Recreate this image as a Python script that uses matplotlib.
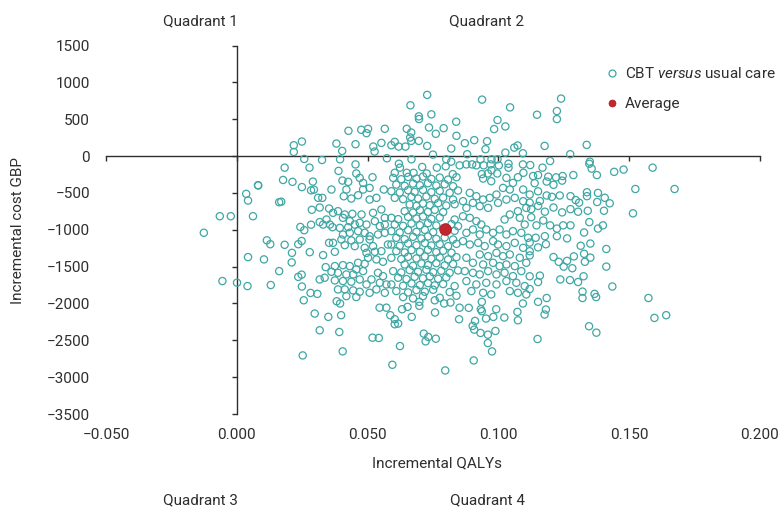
import numpy as np
import matplotlib.pyplot as plt
from matplotlib.lines import Line2D

plt.rcParams['font.family'] = ['Roboto', 'DejaVu Sans']
plt.rcParams['mathtext.fontset'] = 'custom'
plt.rcParams['mathtext.rm'] = 'Roboto'
plt.rcParams['mathtext.it'] = 'Roboto:italic'

# bootstrap replicates (incremental QALY, incremental cost GBP)
band_top = [
    (0.0728, 830), (0.0938, 766), (0.124, 780), (0.0664, 689), (0.1045, 661), (0.1224, 611),
    (0.1148, 561), (0.1224, 502), (0.0696, 539), (0.0697, 502), (0.0744, 566), (0.0997, 489),
    (0.0839, 466), (0.0427, 343), (0.0476, 357), (0.0502, 370), (0.0496, 311), (0.0566, 370),
    (0.065, 370), (0.0667, 320), (0.0735, 388), (0.0791, 379), (0.0761, 302), (0.0984, 366),
    (0.1027, 402), (0.0663, 252), (0.0667, 206), (0.0696, 206), (0.084, 275), (0.0908, 216),
    (0.0957, 202), (0.0872, 175), (0.0218, 147), (0.0249, 197), (0.0218, 56), (0.0381, 170),
    (0.0454, 161), (0.0403, 70), (0.0522, 129), (0.0527, 61), (0.0553, 179), (0.0591, 147),
    (0.0604, 193), (0.0619, 129), (0.0645, 129), (0.0728, 138), (0.082, 102), (0.0951, 93),
    (0.1061, 115), (0.1074, 143), (0.1177, 138), (0.1338, 152), (0.1094, 38), (0.1027, 47),
    (0.075, 20), (0.1275, 25), (0.0881, 25),
    (0.0258, -39), (0.0326, -53), (0.0395, -44), (0.0574, -30), (0.0668, -44), (0.0801, -44),
    (0.0974, -44), (0.0997, -44), (0.1198, -67), (0.135, -76), (0.082, -76), (0.0932, -44),
    (0.0183, -157), (0.0278, -157), (0.0454, -113), (0.062, -104), (0.0624, -157), (0.0709, -148),
    (0.0765, -157), (0.0799, -139), (0.0852, -126), (0.0878, -113), (0.09, -113), (0.0916, -126),
    (0.0944, -126), (0.0971, -113), (0.1002, -126), (0.1039, -104), (0.1039, -157), (0.1094, -113),
    (0.1122, -122), (0.1169, -157), (0.1348, -104), (0.1357, -170), (0.159, -157), (0.1479, -183),
    (0.1443, -214), (0.1377, -258),
    (0.0389, -201), (0.0457, -236), (0.0604, -227), (0.065, -227), (0.0676, -227), (0.0726, -236),
    (0.0826, -245), (0.0937, -245), (0.096, -236), (0.0974, -192), (0.0996, -236), (0.1096, -227),
    (0.1133, -271), (0.1152, -258), (0.1191, -280), (0.1221, -289), (0.1246, -271), (0.1287, -258),
    (0.1244, -333), (0.1185, -346),
]

# left and right flanks of the cloud
band_sides = [
    (0.0177, -324), (0.0213, -350), (0.0082, -399), (0.0249, -421), (0.0291, -346), (0.0284, -465),
    (0.0295, -456), (0.1139, -368), (0.1211, -390), (0.1152, -478), (0.1524, -447), (0.1674, -447),
    (0.0036, -512), (0.0043, -603), (0.0081, -395), (0.0162, -626), (0.017, -619), (0.0311, -566),
    (0.112, -522), (0.1159, -610), (0.1185, -535), (0.1205, -553), (0.1235, -535), (0.1276, -544),
    (0.1296, -597), (0.1309, -632), (0.1339, -491), (0.1339, -544), (0.1381, -500), (0.1407, -566),
    (0.1426, -641),
    (-0.0065, -816), (-0.0023, -816), (0.0062, -816), (0.0287, -729), (0.0317, -698), (0.112, -632),
    (0.1126, -720), (0.1152, -676), (0.1178, -755), (0.1211, -698), (0.1244, -764), (0.1276, -720),
    (0.1305, -755), (0.1342, -742), (0.1378, -623), (0.1404, -742), (0.1515, -777),
    (0.0243, -962), (0.0258, -1006), (0.0284, -931), (0.0317, -896), (0.1126, -830), (0.1146, -940),
    (0.1172, -874), (0.1198, -940), (0.1224, -984), (0.1248, -940), (0.1276, -940), (0.1328, -1037),
    (0.1348, -896), (0.1381, -984), (0.14, -940), (-0.0126, -1041),
    (0.0115, -1143), (0.0128, -1196), (0.0183, -1204), (0.0235, -1196), (0.0248, -1152), (0.112, -1174),
    (0.1143, -1108), (0.1178, -1087), (0.1182, -1196), (0.1224, -1087), (0.1263, -1117), (0.1315, -1217),
    (0.1352, -1187), (0.1413, -1261),
    (0.0043, -1371), (0.0104, -1402), (0.0211, -1313), (0.021, -1443), (0.0279, -1304), (0.112, -1291),
    (0.112, -1348), (0.1152, -1239), (0.1211, -1370), (0.1231, -1435), (0.1263, -1422), (0.1289, -1361),
    (0.1328, -1326), (0.1331, -1435), (0.1352, -1378), (0.1413, -1500),
    (-0.0055, -1696), (0.0001, -1718), (0.0041, -1764), (0.013, -1750), (0.0162, -1561), (0.0235, -1639),
    (0.0248, -1609), (0.0317, -1674), (0.112, -1631), (0.1152, -1709), (0.1159, -1622), (0.1237, -1674),
    (0.125, -1500), (0.1274, -1683), (0.1283, -1522), (0.1305, -1709), (0.1326, -1631), (0.1436, -1770),
    (0.0249, -1770), (0.0256, -1957), (0.0282, -1857), (0.0308, -1870), (0.0382, -1970), (0.0395, -2000),
    (0.0546, -2057), (0.0572, -2057), (0.0698, -1978), (0.0757, -1957), (0.0793, -2000), (0.0817, -1987),
    (0.0852, -2057), (0.0937, -1978), (0.1094, -2000), (0.112, -1804), (0.1152, -1978), (0.1185, -1926),
    (0.1322, -1839), (0.1322, -1926), (0.1368, -1870), (0.1374, -1913), (0.1574, -1926),
]

# dense core, left third
core_a = [
    (0.0404, -332), (0.0426, -350), (0.0419, -454), (0.0409, -545), (0.0438, -576), (0.047, -296),
    (0.0483, -364), (0.0519, -287), (0.0508, -432), (0.0483, -454), (0.0464, -531), (0.0508, -590),
    (0.0534, -567), (0.0562, -454), (0.0362, -454), (0.0327, -567), (0.0353, -712), (0.0368, -770),
    (0.0387, -748), (0.0413, -793), (0.0442, -784), (0.0477, -793), (0.0521, -770), (0.0553, -725),
    (0.0566, -838), (0.0343, -861), (0.0356, -929), (0.033, -929), (0.0366, -965), (0.0406, -838),
    (0.0432, -883), (0.0451, -929), (0.047, -906), (0.0496, -929), (0.0528, -883), (0.0547, -951),
    (0.0566, -929), (0.0394, -974), (0.0426, -965), (0.0406, -1064), (0.0432, -1041), (0.0464, -1019),
    (0.0489, -1041), (0.0508, -1087), (0.054, -1064), (0.0566, -1041), (0.04, -1132), (0.0438, -1145),
    (0.047, -1132), (0.0508, -1132), (0.0368, -1177), (0.0353, -1177), (0.0413, -1209), (0.0451, -1222),
    (0.0489, -1245), (0.0521, -1222), (0.0578, -1200), (0.0375, -1299), (0.0496, -1313), (0.0528, -1299),
    (0.0553, -1290), (0.033, -1344), (0.0502, -1380), (0.0534, -1403), (0.0559, -1434), (0.0464, -1448),
    (0.0489, -1462), (0.034, -1507), (0.0375, -1493), (0.0406, -1480), (0.0432, -1493), (0.0457, -1538),
    (0.0483, -1561), (0.0362, -1570), (0.0387, -1584), (0.0419, -1606), (0.0445, -1606), (0.054, -1584),
    (0.0559, -1629), (0.0336, -1651), (0.0515, -1674), (0.047, -1674), (0.0375, -1687), (0.0406, -1696),
    (0.0438, -1705), (0.0496, -1742), (0.0547, -1719), (0.0572, -1742), (0.0387, -1809), (0.0413, -1809),
    (0.0445, -1823), (0.047, -1841), (0.0508, -1855), (0.0534, -1809), (0.0566, -1855), (0.0419, -1900),
    (0.0457, -1913),
]

# dense core, middle third (around the average)
core_b = [
    (0.0598, -296), (0.0629, -314), (0.0655, -283), (0.0687, -305), (0.0712, -278), (0.0744, -310),
    (0.0776, -292), (0.0808, -319), (0.084, -287),
    (0.061, -387), (0.0642, -405), (0.0674, -373), (0.07, -396), (0.0731, -368), (0.0763, -400),
    (0.0795, -382), (0.0827, -409),
    (0.0591, -477), (0.0623, -495), (0.0655, -463), (0.068, -486), (0.0712, -459), (0.0744, -490),
    (0.0776, -472), (0.0814, -499), (0.0846, -468),
    (0.0604, -567), (0.0636, -585), (0.0668, -554), (0.0693, -576), (0.0725, -549), (0.0757, -581),
    (0.0789, -563), (0.0827, -590),
    (0.0661, -658), (0.0687, -676), (0.0712, -644), (0.0738, -667), (0.077, -639), (0.0801, -671),
    (0.0833, -653),
    (0.0642, -748), (0.0674, -766), (0.07, -734), (0.0731, -757), (0.0757, -730), (0.0789, -761),
    (0.0591, -838), (0.0617, -856), (0.0655, -825), (0.0687, -847), (0.0712, -820), (0.0744, -852),
    (0.0776, -834), (0.0833, -861),
    (0.0604, -929), (0.0636, -947), (0.0668, -915), (0.07, -938), (0.0731, -910), (0.0763, -942),
    (0.0821, -924), (0.0846, -951),
    (0.0591, -1019), (0.0623, -1037), (0.0655, -1005), (0.0687, -1028), (0.0719, -1001), (0.0751, -1032),
    (0.0833, -1014),
    (0.061, -1109), (0.0642, -1127), (0.0674, -1096), (0.0706, -1118), (0.0731, -1091), (0.0763, -1123),
    (0.0795, -1105), (0.0827, -1132),
    (0.0591, -1200), (0.0623, -1218), (0.0655, -1186), (0.0687, -1209), (0.0719, -1181), (0.0744, -1213),
    (0.0776, -1195), (0.0808, -1222), (0.084, -1191),
    (0.061, -1290), (0.0642, -1308), (0.0668, -1276), (0.07, -1299), (0.0731, -1272), (0.0763, -1304),
    (0.0789, -1285), (0.0821, -1312),
    (0.0591, -1380), (0.0629, -1398), (0.0655, -1367), (0.0687, -1389), (0.0719, -1362), (0.0744, -1394),
    (0.0776, -1376), (0.0808, -1403), (0.084, -1371),
    (0.0642, -1471), (0.0674, -1489), (0.0706, -1457), (0.0731, -1480), (0.0763, -1453), (0.0795, -1484),
    (0.0827, -1466),
    (0.0598, -1561), (0.0629, -1579), (0.0661, -1547), (0.0693, -1570), (0.0725, -1543), (0.0751, -1575),
    (0.0782, -1556), (0.0814, -1584), (0.0846, -1552),
    (0.0617, -1651), (0.0649, -1669), (0.068, -1638), (0.0712, -1660), (0.0738, -1633), (0.077, -1665),
    (0.0801, -1647),
    (0.0591, -1742), (0.0636, -1760), (0.0668, -1728), (0.07, -1751), (0.0731, -1724), (0.0757, -1755),
    (0.0789, -1737), (0.0833, -1764),
    (0.061, -1832), (0.0655, -1850), (0.0687, -1818), (0.0719, -1841), (0.0751, -1814), (0.0814, -1845),
    (0.0636, -1913), (0.0674, -1931), (0.0712, -1900), (0.0776, -1922), (0.084, -1895),
]

# dense core, right third
core_c = [
    (0.0942, -305), (0.0973, -341), (0.1031, -296), (0.1056, -364), (0.1075, -287), (0.1095, -454),
    (0.1044, -454), (0.1018, -432), (0.0993, -522), (0.0967, -567), (0.0942, -590), (0.0916, -545),
    (0.0903, -635), (0.0891, -499), (0.0865, -612), (0.0878, -703), (0.0929, -680), (0.0961, -703),
    (0.0999, -635), (0.1031, -590), (0.1063, -567), (0.1095, -612), (0.1107, -703), (0.1075, -748),
    (0.1024, -861), (0.1044, -793), (0.1082, -838), (0.1101, -929), (0.0865, -816), (0.0891, -838),
    (0.0916, -883), (0.0935, -929), (0.0903, -996), (0.0878, -1041), (0.0929, -1064), (0.0954, -996),
    (0.098, -1041), (0.1005, -996), (0.1031, -1064), (0.1056, -1019), (0.1088, -1041), (0.1114, -1109),
    (0.0865, -1154), (0.0891, -1200), (0.0923, -1177), (0.0948, -1222), (0.098, -1154), (0.0999, -1200),
    (0.1031, -1222), (0.1063, -1177), (0.1095, -1245), (0.0929, -1335), (0.0961, -1358), (0.0993, -1313),
    (0.1018, -1358), (0.1044, -1335), (0.1082, -1380), (0.1107, -1448), (0.0878, -1380), (0.0903, -1448),
    (0.0942, -1471), (0.098, -1448), (0.1005, -1493), (0.1031, -1471), (0.1063, -1493), (0.1088, -1561),
    (0.0872, -1561), (0.0903, -1584), (0.0929, -1606), (0.0961, -1561), (0.0993, -1606), (0.1024, -1584),
    (0.1056, -1629), (0.0878, -1696), (0.0916, -1742), (0.0954, -1719), (0.0993, -1742), (0.1031, -1696),
    (0.1069, -1719), (0.1101, -1764), (0.0897, -1832), (0.0942, -1855), (0.0973, -1877), (0.1044, -1832),
    (0.1075, -1855), (0.1107, -1877),
]

band_bottom = [
    (0.0298, -2137), (0.035, -2182), (0.0399, -2159), (0.0317, -2364), (0.0392, -2387), (0.0252, -2705),
    (0.0405, -2650), (0.0519, -2464), (0.0543, -2468), (0.0587, -2159), (0.0604, -2214), (0.0604, -2282),
    (0.0617, -2273), (0.0624, -2578), (0.0595, -2832), (0.0632, -2078), (0.0653, -2046), (0.0669, -2182),
    (0.0698, -2032), (0.0715, -2409), (0.0732, -2455), (0.0722, -2514), (0.0758, -2123), (0.0761, -2478),
    (0.0797, -2909), (0.085, -2214), (0.0887, -2059), (0.0911, -2237), (0.0902, -2305), (0.0908, -2355),
    (0.0933, -2078), (0.0937, -2105), (0.0932, -2400), (0.0953, -2205), (0.096, -2423), (0.096, -2537),
    (0.0981, -2182), (0.0989, -2373), (0.0976, -2650), (0.0992, -2078), (0.0906, -2773), (0.1023, -2191),
    (0.1073, -2114), (0.1075, -2228), (0.115, -2482), (0.1177, -2150), (0.1182, -2082), (0.1347, -2309),
    (0.1375, -2396), (0.1597, -2196), (0.1642, -2159),
]

avg_qaly = 0.0795
avg_cost = -985

xticks = [-0.05, 0.0, 0.05, 0.10, 0.15, 0.20]
xtick_labels = ['\u22120.050', '0.000', '0.050', '0.100', '0.150', '0.200']
yticks = [1500, 1000, 500, 0, -500, -1000, -1500, -2000, -2500, -3000, -3500]
ytick_labels = ['1500', '1000', '500', '0', '\u2212500', '\u22121000', '\u22121500',
                '\u22122000', '\u22122500', '\u22123000', '\u22123500']

TEAL = '#3fa7a4'
RED = '#c1272d'
INK = '#2e2e2e'

pts = np.array(band_top + band_sides + core_a + core_b + core_c + band_bottom)
qaly, cost = pts[:, 0], pts[:, 1]

fig = plt.figure(figsize=(7.83, 5.07), dpi=100)
rect = [0.1354, 0.1834, 0.835, 0.7268]

# axes lines crossing at the origin
ax0 = fig.add_axes(rect)
ax0.set_xlim(-0.05, 0.2)
ax0.set_ylim(-3500, 1500)
ax0.set_xticks(xticks)
ax0.set_yticks(yticks)
ax0.spines['left'].set_position(('data', 0))
ax0.spines['bottom'].set_position(('data', 0))
ax0.spines['right'].set_visible(False)
ax0.spines['top'].set_visible(False)
for s in ['left', 'bottom']:
    ax0.spines[s].set_color(INK)
    ax0.spines[s].set_linewidth(1.0)
ax0.tick_params(labelleft=False, labelbottom=False, length=3.5, width=1.0, color=INK)
ax0.patch.set_visible(False)

ax = fig.add_axes(rect)
ax.patch.set_visible(False)
ax.scatter(qaly, cost, s=27, facecolors='none', edgecolors=TEAL, linewidths=0.9, zorder=3)
ax.scatter([avg_qaly], [avg_cost], s=70, color=RED, edgecolors='#a01d22', linewidths=0.6, zorder=4)
ax.set_xlim(-0.05, 0.2)
ax.set_ylim(-3500, 1500)
for s in ax.spines.values():
    s.set_visible(False)
ax.set_xticks(xticks, xtick_labels)
ax.set_yticks(yticks, ytick_labels)
ax.tick_params(length=0, labelsize=11, labelcolor=INK)
ax.tick_params(axis='y', pad=11.5)
ax.tick_params(axis='x', pad=10)

fig.text(0.558, 0.087, 'Incremental QALYs', ha='center', va='center', fontsize=11, color=INK)
fig.text(0.023, 0.546, 'Incremental cost GBP', ha='center', va='center', rotation=90,
         fontsize=11, color=INK)

fig.text(0.2554, 0.9586, 'Quadrant 1', ha='center', va='center', fontsize=11, color=INK)
fig.text(0.622, 0.9586, 'Quadrant 2', ha='center', va='center', fontsize=11, color=INK)
fig.text(0.2554, 0.0138, 'Quadrant 3', ha='center', va='center', fontsize=11, color=INK)
fig.text(0.622, 0.0138, 'Quadrant 4', ha='center', va='center', fontsize=11, color=INK)

handles = [
    Line2D([], [], ls='none', marker='o', ms=5, mfc='none', mec=TEAL, mew=0.9),
    Line2D([], [], ls='none', marker='o', ms=5, mfc=RED, mec='#a01d22', mew=0.5),
]
leg = ax.legend(handles, ['CBT $\\it{versus}$ usual care', 'Average'],
                loc='upper left', bbox_to_anchor=(0.774, 0.870), bbox_transform=fig.transFigure,
                frameon=False, borderpad=0, borderaxespad=0, handlelength=0.8,
                handletextpad=0.45, labelspacing=1.05, fontsize=11)
for t in leg.get_texts():
    t.set_color(INK)

fig.savefig('out.png', dpi=100)
